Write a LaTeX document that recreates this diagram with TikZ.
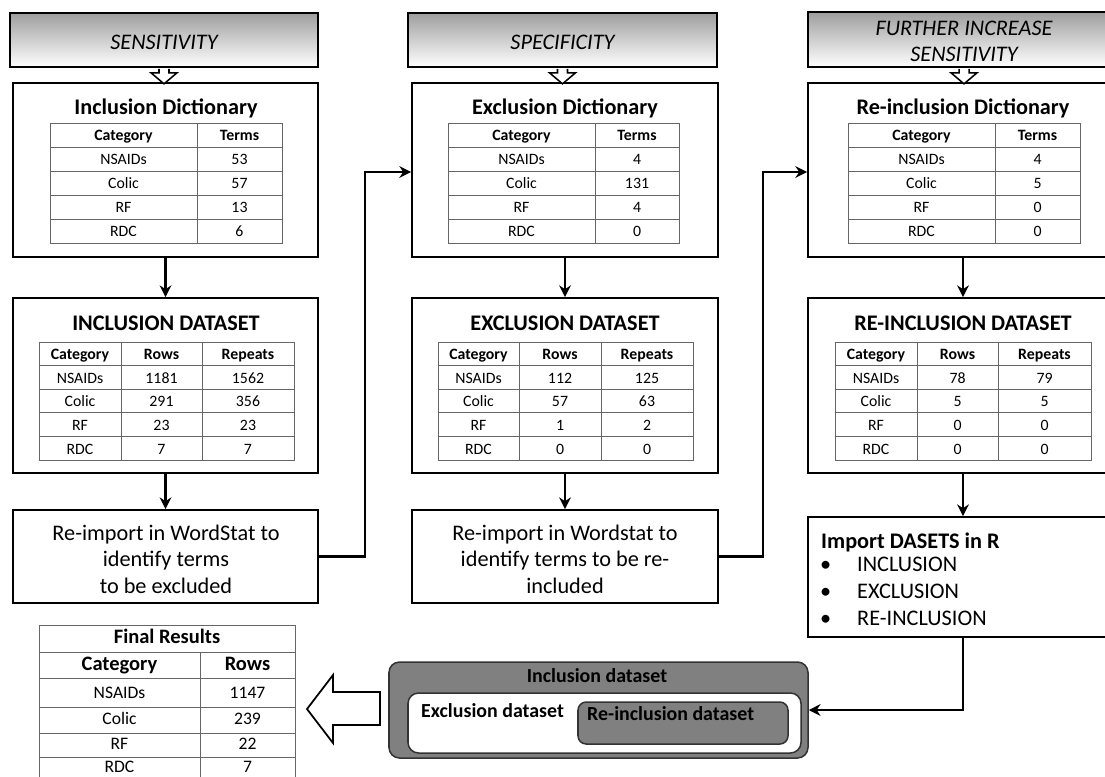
\documentclass[tikz,border=0pt]{standalone}
\usepackage{fontspec}
\setmainfont{Carlito}
\usetikzlibrary{arrows.meta,fit,positioning}

\tikzset{
  hdr/.style={draw, line width=1.4pt, top color=black!38, bottom color=white, inner sep=0pt},
  hdrtxt/.style={align=center, font=\fontsize{19}{22}\selectfont\itshape, inner sep=0pt, yshift=-1.8pt},
  box/.style={draw, line width=1.5pt, fill=white, inner sep=0pt},
  boxtxt/.style={align=center, font=\fontsize{19}{22.5}\selectfont, inner sep=0pt},
  title/.style={font=\fontsize{19}{22}\selectfont\bfseries, inner sep=0pt, yshift=-1.5pt},
  grid/.style={draw=black!60, line width=0.6pt},
  cell/.style={font=\fontsize{13.5}{15}\selectfont, inner sep=0pt, text height=1.55ex, text depth=0.4ex, yshift=-2.2pt},
  hcell/.style={cell, font=\fontsize{13.5}{15}\selectfont\bfseries},
  fcell/.style={cell, font=\fontsize{15}{17}\selectfont},
  fhead/.style={cell, font=\fontsize{17.5}{19}\selectfont\bfseries},
  item/.style={font=\fontsize{19}{22}\selectfont, inner sep=0pt, anchor=west, text height=1.55ex, text depth=0.4ex, yshift=-2.2pt},
  conn/.style={line width=2.5pt, -{Stealth[length=10pt,width=10pt]}},
  hollow/.style={draw, line width=1.3pt, fill=white},
  pane/.style={draw=black!80, line width=1.3pt, rounded corners=9pt, inner sep=0pt},
  plabel/.style={font=\fontsize{17}{19}\selectfont\bfseries, inner sep=0pt, text height=1.55ex, text depth=0.4ex, yshift=-2.2pt},
}

\begin{document}
\begin{tikzpicture}[x=0.03cm, y=-0.03cm]
\clip (0,0) rectangle (1105,776);
\fill[white] (0,0) rectangle (1105,776);

% stage headers
\node[hdr, fit={(10,13) (318,67)}] (hdr1) {};
\node[hdr, fit={(408,13) (717,67)}] (hdr2) {};
\node[hdr, fit={(808,12) (1120,67)}] (hdr3) {};
\node[hdrtxt] (hdr1t) at (hdr1.center) {SENSITIVITY};
\node[hdrtxt] (hdr2t) at (hdr2.center) {SPECIFICITY};
\node[hdrtxt] (hdr3t) at (hdr3.center) {FURTHER INCREASE\\SENSITIVITY};

% dictionaries
\node[box, fit={(13,83) (318,257)}] (dict1) {};
\node[box, fit={(412,83) (718,257)}] (dict2) {};
\node[box, fit={(808,83) (1118,257)}] (dict3) {};
\node[title] (dict1t) at (166,107) {Inclusion Dictionary};
\node[title] (dict2t) at (565,107) {Exclusion Dictionary};
\node[title] (dict3t) at (963,107) {Re-inclusion Dictionary};

\foreach \h in {hdr1,hdr2,hdr3}
  \draw[hollow] (\h.south) ++(-5,1) -- ++(0,4) -- ++(-8,0) -- ++(13,11) -- ++(13,-11) -- ++(-8,0) -- ++(0,-4);

\foreach \k/\xa/\xm/\xb/\va/\vb/\vc/\vd in {1/50/197/282/53/57/13/6, 2/448/595/679/4/131/4/0, 3/848/995/1080/4/5/0/0} {
  \draw[grid] (\xa,123) rectangle (\xb,243);
  \draw[grid] (\xm,123) -- (\xm,243);
  \foreach \r in {1,...,4}
    \draw[grid] (\xa,{123+24*\r}) -- (\xb,{123+24*\r});
  \node[hcell] (dt\k-h1) at ({(\xa+\xm)/2},135) {Category};
  \node[hcell] (dt\k-h2) at ({(\xm+\xb)/2},135) {Terms};
  \foreach \cat/\val [count=\i] in {NSAIDs/\va, Colic/\vb, RF/\vc, RDC/\vd} {
    \node[cell] (dt\k-c\i) at ({(\xa+\xm)/2},{135+24*\i}) {\cat};
    \node[cell] (dt\k-v\i) at ({(\xm+\xb)/2},{135+24*\i}) {\val};
  }
}

% datasets
\node[box, fit={(13,298) (318,473)}] (data1) {};
\node[box, fit={(412,298) (718,473)}] (data2) {};
\node[box, fit={(808,298) (1118,473)}] (data3) {};
\node[title] (data1t) at (166,322) {INCLUSION DATASET};
\node[title] (data2t) at (565,322) {EXCLUSION DATASET};
\node[title] (data3t) at (963,322) {RE-INCLUSION DATASET};

\foreach \k/\xa/\xm/\xn/\xb/\ra/\rb/\rc/\rd/\pa/\pb/\pc/\pd in
  {1/39/121/202/294/1181/291/23/7/1562/356/23/7,
   2/438/519/601/693/112/57/1/0/125/63/2/0,
   3/835/917/998/1091/78/5/0/0/79/5/0/0} {
  \draw[grid] (\xa,342) rectangle (\xb,460);
  \draw[grid] (\xm,342) -- (\xm,460);
  \draw[grid] (\xn,342) -- (\xn,460);
  \foreach \r in {1,...,4}
    \draw[grid] (\xa,{342+23.6*\r}) -- (\xb,{342+23.6*\r});
  \node[hcell] (ds\k-h1) at ({(\xa+\xm)/2},353.8) {Category};
  \node[hcell] (ds\k-h2) at ({(\xm+\xn)/2},353.8) {Rows};
  \node[hcell] (ds\k-h3) at ({(\xn+\xb)/2},353.8) {Repeats};
  \foreach \cat/\rw/\rp [count=\i] in {NSAIDs/\ra/\pa, Colic/\rb/\pb, RF/\rc/\pc, RDC/\rd/\pd} {
    \node[cell] (ds\k-c\i) at ({(\xa+\xm)/2},{353.8+23.6*\i}) {\cat};
    \node[cell] (ds\k-r\i) at ({(\xm+\xn)/2},{353.8+23.6*\i}) {\rw};
    \node[cell] (ds\k-p\i) at ({(\xn+\xb)/2},{353.8+23.6*\i}) {\rp};
  }
}

% re-import steps
\node[box, fit={(13,510) (318,603)}] (reimp1) {};
\node[box, fit={(412,510) (718,603)}] (reimp2) {};
\node[boxtxt] (reimp1t) at (166,559) {Re-import in WordStat to\\identify terms\\to be excluded};
\node[boxtxt] (reimp2t) at (565,559) {Re-import in Wordstat to\\identify terms to be re-\\included};
\node[box, fit={(808,517) (1118,637)}] (imp) {};
\node[title, anchor=west] (impt) at (821,541) {Import DASETS in R};
\foreach \lab/\yy [count=\i] in {INCLUSION/566, EXCLUSION/593, RE-INCLUSION/620} {
  \node[item] (bul\i) at (820,\yy) {\textbullet};
  \node[item] (itm\i) at (857,\yy) {\lab};
}

% flow
\foreach \k in {1,2,3}
  \draw[conn] (dict\k) -- (data\k);
\draw[conn] (data1) -- (reimp1);
\draw[conn] (data2) -- (reimp2);
\draw[conn] (data3) -- (imp);
\coordinate (loop1) at (365,172);
\coordinate (loop2) at (763,172);
\draw[conn] (reimp1.east) -| (loop1) -- (loop1 -| dict2.west);
\draw[conn] (reimp2.east) -| (loop2) -- (loop2 -| dict3.west);

% nested datasets
\node[pane, fill=black!50, fit={(389,662) (808,758)}] (outer) {};
\node[pane, fill=white, fit={(408,693) (801,753)}] (mid) {};
\node[pane, fill=black!50, rounded corners=7pt, fit={(578,702) (788,744)}] (inner) {};
\node[plabel] (outert) at (597,677) {Inclusion dataset};
\node[plabel, anchor=west] (midt) at (421,712) {Exclusion dataset};
\node[plabel, anchor=west] (innert) at (587,715) {Re-inclusion dataset};
\draw[conn] (imp.south) |- (outer.east);

% final results
\draw[grid] (39,625) rectangle (295,790);
\foreach \yy in {652,678,707,733,757}
  \draw[grid] (39,\yy) -- (295,\yy);
\draw[grid] (200,652) -- (200,790);
\node[fhead] (fin) at (167,638) {Final Results};
\node[fhead] (fin-h1) at (119.5,665) {Category};
\node[fhead] (fin-h2) at (247.5,665) {Rows};
\foreach \cat/\val/\yy [count=\i] in {NSAIDs/1147/693, Colic/239/719, RF/22/744, RDC/7/767} {
  \node[fcell] (fin-c\i) at (119.5,\yy) {\cat};
  \node[fcell] (fin-v\i) at (247.5,\yy) {\val};
}

\draw[hollow, line width=1.5pt] (307,709) -- (333,675) -- (333,692) -- (380,692) -- (380,725) -- (333,725) -- (333,743) -- cycle;
\end{tikzpicture}
\end{document}
